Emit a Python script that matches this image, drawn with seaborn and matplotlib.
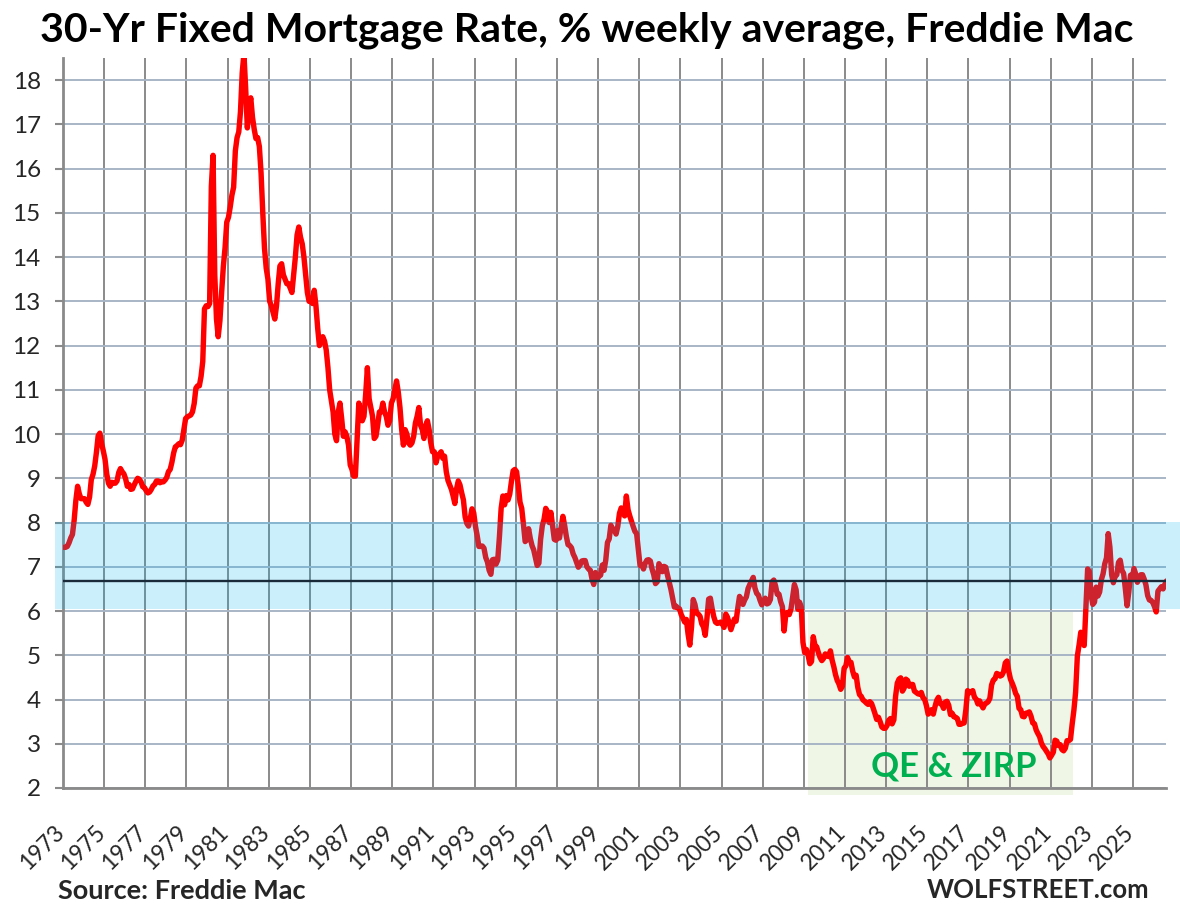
import matplotlib
matplotlib.use("Agg")
import matplotlib.pyplot as plt
import matplotlib.transforms as mtransforms
from matplotlib.patches import Rectangle
import numpy as np
import pandas as pd
import seaborn as sns

# ---------------- data (monthly averages, %) ----------------
rates_1970s = [
    7.44, 7.44, 7.46, 7.54, 7.65, 7.73, 8.05, 8.50, 8.82, 8.65, 8.54, 8.54,   # 1973
    8.54, 8.46, 8.41, 8.58, 8.97, 9.09, 9.28, 9.59, 9.96, 10.02, 9.79, 9.62,  # 1974
    9.43, 9.10, 8.89, 8.82, 8.91, 8.89, 8.89, 8.94, 9.13, 9.22, 9.15, 9.10,   # 1975
    8.99, 8.82, 8.86, 8.75, 8.76, 8.85, 8.93, 9.00, 8.98, 8.92, 8.81, 8.79,   # 1976
    8.72, 8.67, 8.69, 8.75, 8.83, 8.86, 8.94, 8.94, 8.90, 8.92, 8.92, 8.96,   # 1977
    9.02, 9.15, 9.20, 9.36, 9.57, 9.71, 9.74, 9.78, 9.76, 9.86, 10.11, 10.35, # 1978
    10.39, 10.41, 10.43, 10.50, 10.69, 11.04, 11.09, 11.09, 11.30, 11.64, 12.83, 12.90,  # 1979
]
rates_1980s = [
    12.88, 12.95, 15.60, 16.30, 13.60, 12.60, 12.20, 12.56, 13.20, 13.79, 14.21, 14.79,  # 1980
    14.90, 15.13, 15.40, 15.58, 16.40, 16.70, 16.83, 17.29, 18.16, 18.60, 17.83, 16.92,  # 1981
    17.40, 17.60, 17.16, 16.89, 16.68, 16.70, 16.50, 15.90, 15.00, 14.20, 13.75, 13.50,  # 1982
    13.00, 12.90, 12.75, 12.60, 12.90, 13.40, 13.80, 13.85, 13.60, 13.50, 13.40, 13.40,  # 1983
    13.30, 13.20, 13.60, 14.00, 14.50, 14.68, 14.45, 14.30, 14.00, 13.60, 13.20, 13.00,  # 1984
    13.00, 12.95, 13.25, 12.90, 12.40, 12.00, 12.10, 12.20, 12.10, 11.90, 11.50, 11.00,  # 1985
    10.75, 10.50, 10.00, 9.85, 10.50, 10.70, 10.35, 9.95, 10.05, 9.95, 9.75, 9.30,       # 1986
    9.20, 9.05, 9.05, 9.90, 10.70, 10.50, 10.30, 10.40, 10.90, 11.50, 10.80, 10.60,     # 1987
    10.40, 9.90, 9.95, 10.20, 10.50, 10.50, 10.70, 10.50, 10.40, 10.20, 10.30, 10.70,   # 1988
    10.80, 11.00, 11.20, 10.95, 10.60, 10.10, 9.75, 10.10, 10.00, 9.80, 9.75, 9.80,     # 1989
]
rates_1990s = [
    9.95, 10.25, 10.40, 10.60, 10.20, 10.10, 9.90, 10.20, 10.30, 10.10, 9.80, 9.60,  # 1990
    9.60, 9.35, 9.50, 9.55, 9.60, 9.45, 9.50, 9.15, 8.95, 8.85, 8.75, 8.60,         # 1991
    8.43, 8.76, 8.94, 8.85, 8.67, 8.51, 8.13, 7.98, 7.92, 8.09, 8.31, 8.22,         # 1992
    7.92, 7.71, 7.46, 7.46, 7.47, 7.42, 7.21, 7.11, 6.92, 6.83, 7.16, 7.17,         # 1993
    7.06, 7.15, 7.68, 8.32, 8.60, 8.40, 8.61, 8.51, 8.64, 8.93, 9.17, 9.20,         # 1994
    9.15, 8.83, 8.46, 8.32, 7.96, 7.57, 7.61, 7.86, 7.64, 7.48, 7.38, 7.20,         # 1995
    7.03, 7.08, 7.62, 7.93, 8.07, 8.32, 8.25, 8.00, 8.23, 7.92, 7.62, 7.60,         # 1996
    7.82, 7.65, 7.90, 8.14, 7.94, 7.69, 7.50, 7.48, 7.43, 7.29, 7.21, 7.10,         # 1997
    6.99, 7.04, 7.13, 7.14, 7.14, 7.00, 6.95, 6.92, 6.72, 6.60, 6.87, 6.72,         # 1998
    6.79, 6.81, 7.04, 6.92, 7.15, 7.55, 7.63, 7.94, 7.82, 7.85, 7.74, 7.91,         # 1999
]
rates_2000s = [
    8.21, 8.33, 8.24, 8.15, 8.60, 8.29, 8.15, 8.03, 7.91, 7.80, 7.75, 7.38,  # 2000
    7.03, 7.05, 6.95, 7.08, 7.15, 7.16, 7.13, 6.95, 6.82, 6.62, 6.66, 7.07,  # 2001
    7.00, 6.89, 7.01, 6.99, 6.81, 6.65, 6.49, 6.29, 6.09, 6.11, 6.07, 6.05,  # 2002
    5.92, 5.84, 5.75, 5.81, 5.48, 5.23, 5.63, 6.26, 6.15, 5.95, 5.93, 5.88,  # 2003
    5.71, 5.64, 5.45, 5.83, 6.27, 6.29, 6.06, 5.87, 5.75, 5.72, 5.73, 5.75,  # 2004
    5.71, 5.63, 5.93, 5.86, 5.72, 5.58, 5.70, 5.82, 5.77, 6.07, 6.33, 6.27,  # 2005
    6.15, 6.25, 6.32, 6.51, 6.60, 6.68, 6.76, 6.52, 6.40, 6.36, 6.24, 6.14,  # 2006
    6.22, 6.29, 6.16, 6.18, 6.26, 6.66, 6.70, 6.57, 6.38, 6.38, 6.21, 6.10,  # 2007
    5.55, 5.92, 5.97, 5.92, 6.04, 6.32, 6.60, 6.48, 6.04, 6.20, 6.09, 5.29,  # 2008
    5.06, 5.13, 5.00, 4.81, 4.86, 5.42, 5.22, 5.19, 5.06, 4.95, 4.88, 4.93,  # 2009
]
rates_2010s = [
    5.03, 4.99, 4.97, 5.10, 4.89, 4.74, 4.56, 4.43, 4.35, 4.23, 4.30, 4.71,  # 2010
    4.76, 4.95, 4.84, 4.84, 4.64, 4.51, 4.55, 4.27, 4.11, 4.07, 3.99, 3.96,  # 2011
    3.92, 3.89, 3.95, 3.91, 3.80, 3.68, 3.55, 3.60, 3.50, 3.38, 3.35, 3.35,  # 2012
    3.41, 3.53, 3.57, 3.45, 3.54, 4.07, 4.37, 4.46, 4.49, 4.19, 4.26, 4.46,  # 2013
    4.43, 4.30, 4.34, 4.34, 4.19, 4.16, 4.13, 4.12, 4.16, 4.04, 4.00, 3.86,  # 2014
    3.67, 3.71, 3.77, 3.67, 3.84, 3.98, 4.05, 3.91, 3.89, 3.80, 3.94, 3.96,  # 2015
    3.87, 3.66, 3.69, 3.61, 3.60, 3.57, 3.44, 3.44, 3.46, 3.47, 3.77, 4.20,  # 2016
    4.15, 4.17, 4.20, 4.05, 4.01, 3.90, 3.97, 3.88, 3.81, 3.90, 3.92, 3.95,  # 2017
    4.03, 4.33, 4.44, 4.47, 4.59, 4.57, 4.53, 4.55, 4.63, 4.83, 4.87, 4.64,  # 2018
    4.46, 4.37, 4.27, 4.14, 4.07, 3.80, 3.77, 3.62, 3.61, 3.69, 3.70, 3.72,  # 2019
]
rates_2020s = [
    3.62, 3.47, 3.45, 3.31, 3.23, 3.16, 3.02, 2.94, 2.89, 2.83, 2.77, 2.68,  # 2020
    2.74, 2.81, 3.08, 3.06, 2.96, 2.98, 2.87, 2.84, 2.90, 3.07, 3.07, 3.10,  # 2021
    3.45, 3.76, 4.17, 4.98, 5.23, 5.52, 5.41, 5.22, 6.11, 6.95, 6.90, 6.36,  # 2022
    6.15, 6.20, 6.54, 6.34, 6.43, 6.71, 6.84, 7.07, 7.20, 7.75, 7.44, 6.82,  # 2023
    6.64, 6.78, 6.82, 7.10, 7.15, 6.92, 6.85, 6.50, 6.12, 6.43, 6.81, 6.72,  # 2024
    6.96, 6.84, 6.65, 6.73, 6.82, 6.82, 6.72, 6.59, 6.35, 6.25, 6.24, 6.19,  # 2025
    6.10, 5.98, 6.45, 6.50, 6.55, 6.50, 6.60, 6.68,                          # 2026
]

tick_years = list(range(1973, 2026, 2))
band_low, band_high = 6.05, 8.02
ref_level = 6.68
qe_start, qe_end = 2009.2, 2022.08

title = "30-Yr Fixed Mortgage Rate, % weekly average, Freddie Mac"
source_txt = "Source: Freddie Mac"
brand_txt = "WOLFSTREET.com"
qe_txt = "QE & ZIRP"

# ---------------- build frame ----------------
values = rates_1970s + rates_1980s + rates_1990s + rates_2000s + rates_2010s + rates_2020s
n = len(values)
x_pos = 1973 + 1 / 24 + np.arange(n) / 12.0
df = pd.DataFrame({"year": x_pos, "rate": values})

# ---------------- style ----------------
sns.set_style("white")
plt.rcParams["font.family"] = ["Lato", "DejaVu Sans"]

W, H = 1180, 919
fig = plt.figure(figsize=(W / 100, H / 100), dpi=100)
L, R, B, T = 63, 1166, 788, 58
ax = fig.add_axes([L / W, 1 - B / H, (R - L) / W, (B - T) / H])

sns.lineplot(data=df, x="year", y="rate", ax=ax, color="#FF0000", lw=3.9,
             zorder=3, estimator=None, sort=False)

ax.set_xlim(1973, 2026.6)
ax.set_ylim(2, 18.5)
ax.set_yticks(range(2, 19))
ax.set_xticks(tick_years)
ax.set_xticklabels([str(y) for y in tick_years], rotation=45, ha="right",
                   rotation_mode="default")
ax.set_xlabel("")
ax.set_ylabel("")

ax.set_axisbelow(True)
ax.yaxis.grid(True, color="#A8B5C6", lw=1.4)
ax.xaxis.grid(True, color="#8A8A8A", lw=1.4)

for s in ["top", "right"]:
    ax.spines[s].set_visible(False)
for s in ["left", "bottom"]:
    ax.spines[s].set_color("#8A8A8A")
    ax.spines[s].set_linewidth(2.0)

ax.tick_params(axis="y", which="major", length=6, width=1.5, color="#8A8A8A",
               labelsize=17.5, pad=10, direction="out", left=True)
ax.tick_params(axis="x", which="major", length=0, labelsize=16.5, pad=24)

shift = mtransforms.ScaledTranslation(5 / 100, 0, fig.dpi_scale_trans)
for lbl in ax.get_xticklabels():
    lbl.set_transform(lbl.get_transform() + shift)

# light-blue band (drawn over the line)
trans = mtransforms.blended_transform_factory(ax.transAxes, ax.transData)
ax_w = R - L
band = Rectangle(((55 - L) / ax_w, band_low), (W - 55) / ax_w, band_high - band_low,
                 transform=trans, facecolor="#00B0F0", alpha=0.2, lw=0,
                 zorder=5, clip_on=False)
ax.add_patch(band)

ax.axhline(ref_level, color="#1B2A38", lw=1.7, zorder=6)

# QE & ZIRP box
qe_box = Rectangle((qe_start, 1.84), qe_end - qe_start, 5.97 - 1.84,
                   facecolor="#EFF6E5", lw=0, zorder=0.3, clip_on=False)
ax.add_patch(qe_box)
ax.text(2016.3, 2.48, qe_txt, color="#00B050", fontsize=25, fontweight="bold",
        ha="center", va="center", zorder=7)

fig.text(0.497, 0.967, title, ha="center", va="center", fontsize=29.5,
         fontweight="bold", color="black")
fig.text(58 / W, 1 - 891 / H, source_txt, ha="left", va="center", fontsize=19.5,
         fontweight="bold")
fig.text(1149 / W, 1 - 890 / H, brand_txt, ha="right", va="center", fontsize=18.5,
         fontweight="bold")

fig.savefig("out.png", dpi=100)
